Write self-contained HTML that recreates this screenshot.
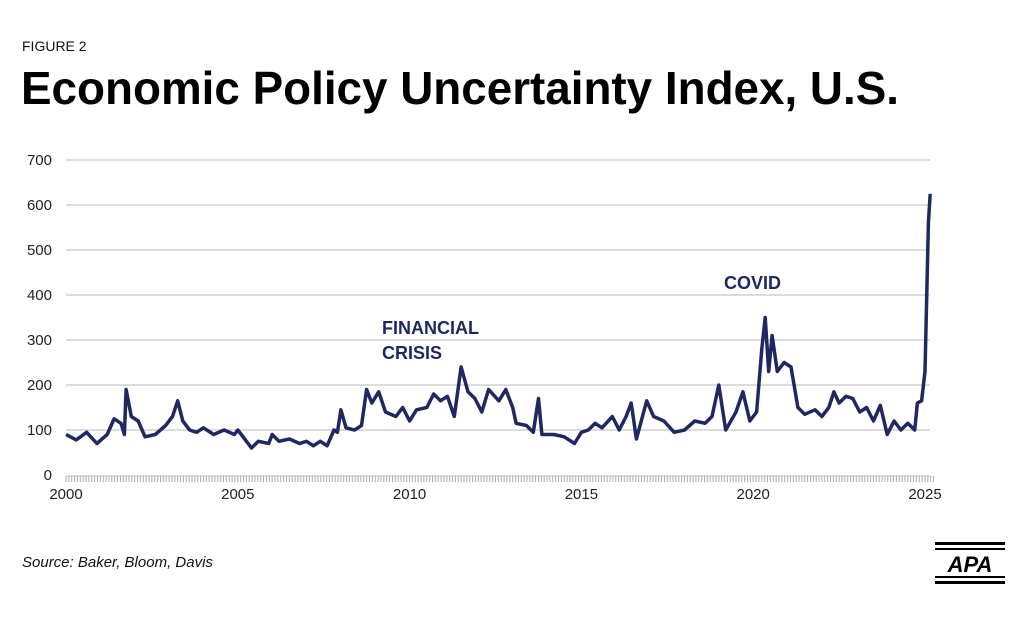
<!DOCTYPE html>
<html><head><meta charset="utf-8"><style>
body{margin:0;background:#fff;width:1026px;height:618px;overflow:hidden;font-family:"Liberation Sans",sans-serif}
</style></head><body>
<svg width="1026" height="618" viewBox="0 0 1026 618">
<text x="22" y="51" font-size="14" fill="#111">FIGURE 2</text>
<text x="21" y="104" font-size="46" font-weight="bold" fill="#000" textLength="878" lengthAdjust="spacingAndGlyphs">Economic Policy Uncertainty Index, U.S.</text>
<g id="grid"></g><g id="yt"></g><g id="xt"></g>
<g id="ticks"></g>
<path id="line" fill="none" stroke="#1f2860" stroke-width="3.5" stroke-linejoin="round"/>
<text x="382" y="334" font-size="18" font-weight="bold" fill="#1f2860">FINANCIAL</text>
<text x="382" y="359" font-size="18" font-weight="bold" fill="#1f2860">CRISIS</text>
<text x="724" y="289" font-size="18" font-weight="bold" fill="#1f2860">COVID</text>
<text x="22" y="567" font-size="15" font-style="italic" fill="#111">Source: Baker, Bloom, Davis</text>
<g>
<rect x="935" y="542" width="70" height="3" fill="#000"/><rect x="935" y="548" width="70" height="2" fill="#000"/>
<text x="970" y="572" font-size="22" font-weight="bold" font-style="italic" text-anchor="middle" fill="#000">APA</text>
<rect x="935" y="576" width="70" height="2" fill="#000"/><rect x="935" y="581" width="70" height="3" fill="#000"/>
</g>
</svg>
<script>
const dates=[2000.0,2000.3,2000.6,2000.9,2001.2,2001.4,2001.6,2001.7,2001.75,2001.9,2002.1,2002.3,2002.6,2002.9,2003.1,2003.25,2003.4,2003.6,2003.8,2004.0,2004.3,2004.6,2004.9,2005.0,2005.2,2005.4,2005.6,2005.9,2006.0,2006.2,2006.5,2006.8,2007.0,2007.2,2007.4,2007.6,2007.8,2007.9,2008.0,2008.15,2008.4,2008.6,2008.75,2008.9,2009.1,2009.3,2009.6,2009.8,2010.0,2010.2,2010.5,2010.7,2010.9,2011.1,2011.3,2011.5,2011.7,2011.9,2012.1,2012.3,2012.6,2012.8,2013.0,2013.1,2013.4,2013.6,2013.75,2013.85,2014.2,2014.5,2014.8,2015.0,2015.2,2015.4,2015.6,2015.9,2016.1,2016.3,2016.45,2016.6,2016.9,2017.1,2017.4,2017.7,2018.0,2018.3,2018.6,2018.8,2019.0,2019.2,2019.5,2019.7,2019.9,2020.1,2020.25,2020.35,2020.45,2020.55,2020.7,2020.9,2021.1,2021.3,2021.5,2021.8,2022.0,2022.2,2022.35,2022.5,2022.7,2022.9,2023.1,2023.3,2023.5,2023.7,2023.9,2024.1,2024.3,2024.5,2024.7,2024.78,2024.9,2025.0,2025.1,2025.15];
const values=[90,78,95,70,90,125,115,90,190,130,120,85,90,110,130,165,120,100,95,105,90,100,90,100,80,60,75,70,90,75,80,70,75,65,75,65,100,95,145,105,100,110,190,160,185,140,130,150,120,145,150,180,165,175,130,240,185,170,140,190,165,190,150,115,110,95,170,90,90,85,70,95,100,115,105,130,100,130,160,80,165,130,120,95,100,120,115,130,200,100,140,185,120,140,280,350,230,310,230,250,240,150,135,145,130,150,185,160,175,170,140,150,120,155,90,120,100,115,100,160,165,230,560,625];
const yTicks=[0,100,200,300,400,500,600,700];
const xTicks=[2000,2005,2010,2015,2020,2025];
const X=d=>66+(d-2000)*(925-66)/25, Y=v=>475-v*0.45;
const ns="http://www.w3.org/2000/svg";
function mk(t,a,p,txt){const e=document.createElementNS(ns,t);for(const k in a)e.setAttribute(k,a[k]);if(txt!=null)e.textContent=txt;document.getElementById(p).appendChild(e);return e;}
yTicks.forEach(v=>{
 if(v>0){const g=mk('line',{x1:66,x2:930,y1:Y(v),y2:Y(v),stroke:'#c8c8c8','stroke-width':1.3},'grid');
 
 }
 const t=mk('text',{x:52,y:Y(v)+5,'font-size':15,'text-anchor':'end',fill:'#222'},'yt',v);
 
 
});
xTicks.forEach(v=>{const t=mk('text',{x:X(v),y:499,'font-size':15,'text-anchor':'middle',fill:'#222'},'xt',v);
 
 });
for(let m=0;m<=303;m++){const x=X(2000+m/12);mk('line',{x1:x,x2:x,y1:476,y2:482,stroke:'#aaa','stroke-width':1},'ticks');}
mk('line',{x1:66,x2:930,y1:476,y2:476,stroke:'#bbb','stroke-width':1},'ticks');
const n=Math.min(dates.length,values.length);
document.getElementById('line').setAttribute('d',dates.slice(0,n).map((d,i)=>(i?'L':'M')+X(d).toFixed(1)+','+Y(values[i]).toFixed(1)).join(''));
</script>
</body></html>
